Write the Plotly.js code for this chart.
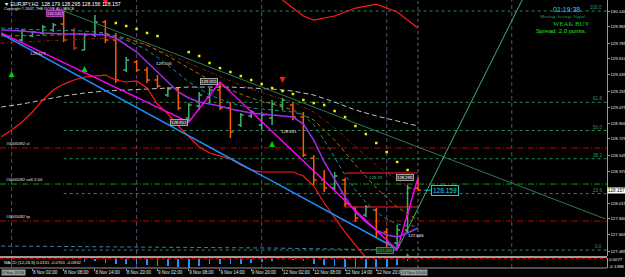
<!DOCTYPE html>
<html>
<head>
<meta charset="utf-8">
<script src="https://cdn.plot.ly/plotly-3.0.1.min.js"></script>
<style>
html,body{margin:0;padding:0;background:#000;overflow:hidden;}
#chart{width:625px;height:277px;}
</style>
</head>
<body>
<div id="chart"></div>
<script>
// ===== DATA : EURJPY, H2 =====
// bar index 1 = 8 Nov 02:00
const barIdx = [0,1,2,3,4,5,6,7,8,9,10,11,12,13,14,15,16,17,18,19,20,21,22,23,24,25,26,27,28,29,30,31,32,33,34,35,36,37,38];
const opens  = [129.819,129.863,129.897,129.930,129.996,129.930,129.709,129.875,130.018,129.819,129.487,129.576,129.487,129.377,129.211,129.277,128.956,129.089,129.189,129.266,129.067,128.879,128.979,128.879,128.956,129.100,129.100,128.967,128.514,128.271,128.182,128.271,127.961,127.883,127.939,127.695,127.574,127.717,128.179];
const highs  = [129.941,129.919,129.985,130.007,130.140,129.952,129.897,130.096,130.040,129.897,129.631,129.598,129.521,129.432,129.299,129.299,129.122,129.244,129.288,129.355,129.133,129.012,129.045,129.023,129.156,129.178,129.122,129.023,128.547,128.381,128.359,128.293,127.972,127.994,127.961,127.740,127.773,128.215,128.295];
const lows   = [129.797,129.852,129.875,129.908,129.797,129.709,129.709,129.852,129.786,129.344,129.465,129.465,129.344,129.288,129.189,129.045,128.912,129.045,129.122,129.045,128.735,128.857,128.956,128.824,128.879,129.045,128.934,128.525,128.215,128.138,128.160,127.972,127.806,127.861,127.640,127.529,127.496,127.684,128.156];
const closes = [129.919,129.908,129.963,129.985,129.819,129.731,129.875,130.018,129.819,129.377,129.598,129.487,129.377,129.310,129.277,129.067,129.100,129.211,129.266,129.067,128.802,128.990,129.023,128.990,129.111,129.156,128.967,128.547,128.271,128.182,128.315,128.005,127.850,127.972,127.695,127.574,127.717,128.182,128.157];
const markedBar = [5];

const timeIdx    = [1,4,7,10,13,16,19,22,25,28,31,34];
const timeLabels = ['8 Nov 02:00','8 Nov 08:00','8 Nov 14:00','8 Nov 20:00','9 Nov 02:00','9 Nov 08:00','9 Nov 14:00','9 Nov 20:00','12 Nov 02:00','12 Nov 08:00','12 Nov 14:00','12 Nov 20:00'];
const dateBoxes  = ['8 Nov 2018','13 Nov 00:00'];
const priceTicks = [130.140,129.965,129.785,129.610,129.435,129.255,129.075,128.900,128.725,128.545,128.370,128.015,127.840,127.665,127.485];
const daySepIdx  = [-1,11,23,35,47];

// moving averages / bands
const purpleIdx  = [-2,0,2,4,6,8,9,10,11,12,13,14,15,16,17,18,19,20,21,22,23,24,25,26,27,28,29,30,31,32,33,34,35,36,37,38];
const purpleVals = [129.930,129.919,129.897,129.886,129.886,129.875,129.841,129.764,129.686,129.576,129.465,129.355,129.244,129.178,129.133,129.111,129.089,129.056,129.034,129.012,129.001,128.990,128.979,128.967,128.890,128.713,128.470,128.271,128.083,127.917,127.806,127.717,127.662,127.640,127.684,127.740];
const silverIdx  = [-2,0,2,4,6,8,10,12,14,16,18,20,22,24,26,28,30,32,34,36,38];
const silverVals = [129.078,129.111,129.156,129.200,129.233,129.255,129.266,129.277,129.288,129.299,129.299,129.299,129.288,129.277,129.255,129.211,129.133,129.045,128.979,128.923,128.868];
const tealIdx    = [-2,2,6,8,10,12,14,16,18,20,22,24,26,27,28,29,30,31,32,33,34,35,36,37,38];
const tealVals   = [129.952,129.930,129.919,129.897,129.819,129.709,129.543,129.355,129.211,129.122,129.067,129.045,129.023,128.990,128.879,128.713,128.514,128.326,128.160,128.027,127.917,127.839,127.784,127.762,127.762];
const slowIdx    = [-2,2,6,8,10,12,14,16,18,20,22,24,26,28,30,32,34,36,38];
const oliveVals  = [129.863,129.875,129.886,129.886,129.841,129.764,129.642,129.509,129.377,129.266,129.178,129.111,129.045,128.934,128.713,128.437,128.182,127.972,127.828];
const darkRedVals= [129.786,129.808,129.830,129.841,129.819,129.764,129.664,129.565,129.465,129.366,129.277,129.200,129.133,129.023,128.846,128.636,128.437,128.271,128.138];
const steelIdx   = [-2,10,24,36];
const steelVals  = [127.540,127.529,127.518,127.496];
const lowBandIdx = [-2,-1,0,1,2,3,4,5,6,7,8,9,10,11,12,13,14,15,16,17,18,19,20,21,22,23,24,25,26,27,28,29,30,31,32,33,34];
const lowBandVals= [128.746,128.824,128.912,129.023,129.156,129.266,129.332,129.377,129.410,129.421,129.432,129.377,129.355,129.366,129.288,129.111,129.001,128.868,128.746,128.636,128.569,128.536,128.503,128.437,128.381,128.359,128.359,128.359,128.359,128.315,128.204,128.016,127.850,127.695,127.551,127.408,127.275];
const upBandIdx  = [25,26,27,28,30,32,34,36,38];
const upBandVals = [130.262,130.173,130.085,130.040,130.085,130.173,130.217,130.129,129.952];

// trend lines / zigzag
const blueIdx  = [-2,36];          const blueVals  = [129.888,127.507];
const zzIdx    = [-2,16,19,36,38]; const zzVals    = [129.897,128.912,129.355,127.496,128.295];
const downIdx  = [4,56];           const downVals  = [130.140,127.839];
const upIdx    = [36,48];          const upVals    = [127.496,130.262];
const boxIdx   = [31,38];          const boxTop = 128.348, boxBottom = 127.972;

// parabolic SAR
const sarIdx  = [9,10,11,12,13,16,17,18,19,20,21,22,23,24,25,26,27,28,29,30,31,32,33,34,35,36,37];
const sarVals = [130.007,129.974,129.941,129.897,129.863,129.686,129.642,129.565,129.509,129.465,129.421,129.377,129.332,129.288,129.255,129.222,129.156,129.122,129.100,129.034,128.967,128.868,128.779,128.680,128.580,128.470,128.381];

// arrows
const upArrowIdx = [-1,6,24,37];   const upArrowVals = [129.476,129.532,128.702,127.463];
const dnArrowIdx = [8,25];         const dnArrowVals = [130.206,129.344];

// fibonacci
const fibLevels = [100.0,61.8,50.0,38.2,23.6,0.0];
const fibHigh = 130.140, fibLow = 127.496, fibStartIdx = 4;

// orders
const orderLabels = ['#0005092 sl','#0005092 sell 2.00','#0005092 tp'];
const orderPrices = [128.625,128.226,127.817];
const orderColors = ['#c80000','#00a000','#c80000'];

// MACD histogram
const macdIdx  = [6,7,8,9,10,11,12,13,14,15,16,17,18,19,20,21,22,23,24,25,26,27,28,29,30,31,32,33,34,35,36,37];
const macdVals = [-0.044,-0.040,-0.059,-0.074,-0.074,-0.083,-0.098,-0.108,-0.108,-0.118,-0.132,-0.108,-0.083,-0.074,-0.074,-0.074,-0.059,-0.044,-0.034,-0.020,-0.025,-0.040,-0.080,-0.088,-0.108,-0.118,-0.123,-0.132,-0.123,-0.118,-0.088,-0.034];

const lastPrice = 128.157, bidPrice = '128.159';

// ===== CHART =====
const PW = 607, PH = 268;
const px = x => x / PW, py = y => 1 - y / PH;

function line(x, y, color, width, dash){
  return {type:'scatter', mode:'lines', x, y, xaxis:'x', yaxis:'y', hoverinfo:'skip',
          line:{color, width, dash:dash||'solid'}};
}

const traces = [
  line(steelIdx, steelVals, '#3f7fb0', 1, '4px,3px'),
  line(silverIdx, silverVals, '#c0c0c0', 1, '5px,3px'),
  line(slowIdx, darkRedVals, '#8a1818', 1, '4px,2px,1px,2px'),
  line(slowIdx, oliveVals, '#9a7a10', 1, '4px,3px'),
  line(tealIdx, tealVals, '#178f8a', 1, '4px,3px'),
  line(downIdx, downVals, '#2d7a52', 1),
  line(upIdx, upVals, '#3cb371', 1),
  line(lowBandIdx, lowBandVals, '#ff1a1a', 1.2),
  line(upBandIdx, upBandVals, '#ff1a1a', 1.2),
  line(blueIdx, blueVals, '#1e90ff', 1.5),
  {type:'ohlc', x:barIdx, open:opens, high:highs, low:lows, close:closes, xaxis:'x', yaxis:'y',
   increasing:{line:{color:'#3cb371', width:1.5}}, decreasing:{line:{color:'#ff5a00', width:1.5}},
   tickwidth:0.28, hoverinfo:'skip'},
  {type:'ohlc', x:markedBar, open:markedBar.map(i=>opens[i]), high:markedBar.map(i=>highs[i]),
   low:markedBar.map(i=>lows[i]), close:markedBar.map(i=>closes[i]), xaxis:'x', yaxis:'y',
   increasing:{line:{color:'#8e1c1c', width:1.5}}, decreasing:{line:{color:'#8e1c1c', width:1.5}},
   tickwidth:0.28, hoverinfo:'skip'},
  line(purpleIdx, purpleVals, '#a12ee8', 1.5),
  line(zzIdx, zzVals, '#ff00ff', 1.4),
  {type:'scatter', mode:'markers', x:sarIdx, y:sarVals, xaxis:'x', yaxis:'y', hoverinfo:'skip',
   marker:{symbol:'square', size:2.5, color:'#f0f000'}},
  {type:'scatter', mode:'markers', x:upArrowIdx, y:upArrowVals, xaxis:'x', yaxis:'y', hoverinfo:'skip',
   marker:{symbol:'arrow-up', size:6, color:'#00d000'}},
  {type:'scatter', mode:'markers', x:dnArrowIdx, y:dnArrowVals, xaxis:'x', yaxis:'y', hoverinfo:'skip',
   marker:{symbol:'arrow-down', size:6, color:'#ff1a1a'}},
  {type:'bar', x:macdIdx, y:macdVals, xaxis:'x', yaxis:'y2', width:0.16, hoverinfo:'skip',
   marker:{color:'#1e90ff', line:{width:0}}}
];

const shapes = [];
daySepIdx.forEach(k => shapes.push({type:'line', xref:'x', yref:'paper', x0:k, x1:k, y0:0, y1:1,
  line:{color:'#5e4870', width:1, dash:'4px,3px'}, layer:'below'}));
shapes.push({type:'line', xref:'x', yref:'paper', x0:38, x1:38, y0:0, y1:1, line:{color:'#6a6a6a', width:1, dash:'dot'}, layer:'below'});
const fibPrices = fibLevels.map(l => fibLow + (fibHigh - fibLow) * l / 100);
fibPrices.forEach(p => shapes.push({type:'line', xref:'x', yref:'y', x0:fibStartIdx, x1:56.2, y0:p, y1:p,
  line:{color:'#2e8b57', width:1, dash:'dot'}, layer:'below'}));
orderPrices.forEach((p,i) => shapes.push({type:'line', xref:'paper', yref:'y', x0:0, x1:1, y0:p, y1:p,
  line:{color:orderColors[i], width:1, dash:'6px,2px,1px,2px'}, layer:'below'}));
[boxTop, boxBottom].forEach(p => shapes.push({type:'line', xref:'x', yref:'y', x0:boxIdx[0], x1:boxIdx[1], y0:p, y1:p,
  line:{color:'#ff2020', width:1}}));
shapes.push({type:'line', xref:'x', yref:'y', x0:38.6, x1:39.5, y0:lastPrice, y1:lastPrice, line:{color:'#00c8d0', width:1}});
shapes.push({type:'line', xref:'paper', yref:'y2', x0:0, x1:1, y0:0, y1:0, line:{color:'#c00000', width:1, dash:'dot'}});
shapes.push({type:'line', xref:'paper', yref:'paper', x0:0, x1:1, y0:py(257), y1:py(257), line:{color:'#d0d0d0', width:1.5}});
shapes.push({type:'line', xref:'paper', yref:'paper', x0:0, x1:1, y0:py(268), y1:py(268), line:{color:'#9a9a9a', width:1}});

const ann = [];
function txt(x, y, text, o){
  ann.push(Object.assign({xref:'paper', yref:'paper', x:px(x), y:py(y), text, showarrow:false,
    xanchor:'left', yanchor:'middle', font:{family:'Arial, Liberation Sans, sans-serif', size:5, color:'#ffffff'}}, o||{}));
}
function dtxt(k, p, text, o){
  ann.push(Object.assign({xref:'x', yref:'y', x:k, y:p, text, showarrow:false,
    xanchor:'center', yanchor:'middle', font:{family:'Arial, Liberation Sans, sans-serif', size:5, color:'#ffffff'}}, o||{}));
}
txt(2, 3.8, '▼ EURJPY,H2  128.179 128.295 128.156 128.157', {font:{family:'Arial', size:5.2, color:'#ffffff'}});
txt(2, 8.8, 'Copyright © 2007, THE DOVE ALLIANCE', {font:{family:'Arial', size:3.8, color:'#e0e0e0'}});
txt(566, 9.3, '01:19:38', {xanchor:'center', font:{family:'Arial', size:7, color:'#22d8e8'}});
txt(563, 16.3, 'Moving Average Signal', {xanchor:'center', font:{family:'Liberation Serif, Times New Roman, serif', size:4.8, color:'#2e9b5e'}});
txt(571, 23.8, 'WEAK BUY', {xanchor:'center', font:{family:'Liberation Serif, Times New Roman, serif', size:6.8, color:'#20c020'}});
txt(561.5, 31.5, 'Spread: 2.0 points.', {xanchor:'center', font:{family:'Arial', size:6, color:'#22e022'}});
fibLevels.forEach((l,i) => ann.push({xref:'paper', yref:'y', x:px(604), y:fibPrices[i], text:l.toFixed(1), showarrow:false,
  xanchor:'right', yanchor:'bottom', yshift:-1, font:{family:'Arial', size:4.6, color:'#2e9b5e'}}));
orderPrices.forEach((p,i) => ann.push({xref:'paper', yref:'y', x:px(4), y:p, text:orderLabels[i], showarrow:false,
  xanchor:'left', yanchor:'bottom', font:{family:'Arial', size:4.3, color:'#e8e8e8'}}));
dtxt(3.1, 130.112, '130.140', {bgcolor:'#7a1b8a', bordercolor:'#b040c0', borderwidth:1, borderpad:0, font:{family:'Arial', size:4, color:'#e0c8ff'}});
dtxt(1.5, 129.675, '129.627', {font:{family:'Arial', size:4.3, color:'#f0c8f0'}});
dtxt(13.6, 129.565, '129.506', {font:{family:'Arial', size:4.3, color:'#f0f0f0'}});
dtxt(17.9, 129.355, '129.355', {bgcolor:'#303030', bordercolor:'#a0a0a0', borderwidth:1, borderpad:0, font:{family:'Arial', size:4.3, color:'#ffffff'}});
dtxt(15.1, 128.912, '128.912', {bgcolor:'#303030', bordercolor:'#a0a0a0', borderwidth:1, borderpad:0, font:{family:'Arial', size:4.3, color:'#ffffff'}});
dtxt(25.6, 128.802, '128.831', {font:{family:'Arial', size:4.3, color:'#f0f0f0'}});
dtxt(34.0, 128.348, '128.39', {yanchor:'top', font:{family:'Arial', size:4.3, color:'#3cb371'}});
dtxt(36.8, 128.293, '128.295', {bgcolor:'#303030', bordercolor:'#a0a0a0', borderwidth:1, borderpad:0, font:{family:'Arial', size:4.3, color:'#ffffff'}});
dtxt(37.8, 127.66, '127.666', {font:{family:'Arial', size:4.3, color:'#ffffff'}});
dtxt(34.8, 127.496, '127.496', {bgcolor:'#103010', bordercolor:'#2e8b57', borderwidth:1, borderpad:0, font:{family:'Arial', size:4.3, color:'#3cb371'}});
dtxt(40.6, lastPrice, bidPrice, {bgcolor:'#000000', bordercolor:'#22c8d8', borderwidth:1, borderpad:1, font:{family:'Arial', size:6.5, color:'#22d8e8'}});
ann.push({xref:'paper', yref:'y', x:1, y:lastPrice, text:'128.157', showarrow:false, xanchor:'left', yanchor:'middle',
  bgcolor:'#ffffff', borderpad:0, font:{family:'Arial', size:4.6, color:'#000000'}});
txt(2, 262.5, 'MACD (12,26,9) 0.0131 -0.0701 -0.0832', {font:{family:'Arial', size:4.3, color:'#e8e8e8'}});
// highlighted date boxes on the time scale
txt(0.5, 272.5, dateBoxes[0], {bgcolor:'#9c9c9c', borderpad:0, font:{family:'Arial', size:4.3, color:'#202020'}});
txt(400, 272.5, dateBoxes[1], {bgcolor:'#9c9c9c', borderpad:0, font:{family:'Arial', size:4.3, color:'#202020'}});

const layout = {
  width:625, height:277,
  margin:{l:0, r:18, t:0, b:9, pad:0},
  paper_bgcolor:'#000000', plot_bgcolor:'#000000',
  showlegend:false, hovermode:false, dragmode:false,
  font:{family:'Arial, Liberation Sans, sans-serif', size:5, color:'#e0e0e0'},
  xaxis:{domain:[0,1], range:[-2.111,56.14], anchor:'y2', tickvals:timeIdx, ticktext:timeLabels, tickangle:0,
    ticklabelposition:'outside right', ticks:'outside', ticklen:2, tickcolor:'#9a9a9a',
    tickfont:{size:4.5, color:'#e8e8e8'}, showgrid:false, zeroline:false, showline:false,
    rangeslider:{visible:false}, fixedrange:true, automargin:false},
  yaxis:{domain:[0.0448,1], range:[127.430,130.262], side:'right', anchor:'x',
    tickvals:priceTicks, ticktext:priceTicks.map(v=>v.toFixed(3)), ticks:'outside', ticklen:1.5, tickcolor:'#9a9a9a',
    tickfont:{size:4.4, color:'#e8e8e8'}, showgrid:false, zeroline:false, showline:true, linecolor:'#9a9a9a', linewidth:1, fixedrange:true, automargin:false},
  yaxis2:{domain:[0,0.0373], range:[-0.1388,0.0077], side:'right', anchor:'x',
    tickvals:[-0.02,-0.11], ticktext:['0.0077','-0.1388'], ticks:'',
    tickfont:{size:4.4, color:'#e8e8e8'}, showgrid:false, zeroline:false, showline:true, linecolor:'#9a9a9a', linewidth:1, fixedrange:true, automargin:false},
  shapes, annotations:ann, bargap:0
};

Plotly.newPlot('chart', traces, layout, {staticPlot:true, displayModeBar:false});
</script>
</body>
</html>
